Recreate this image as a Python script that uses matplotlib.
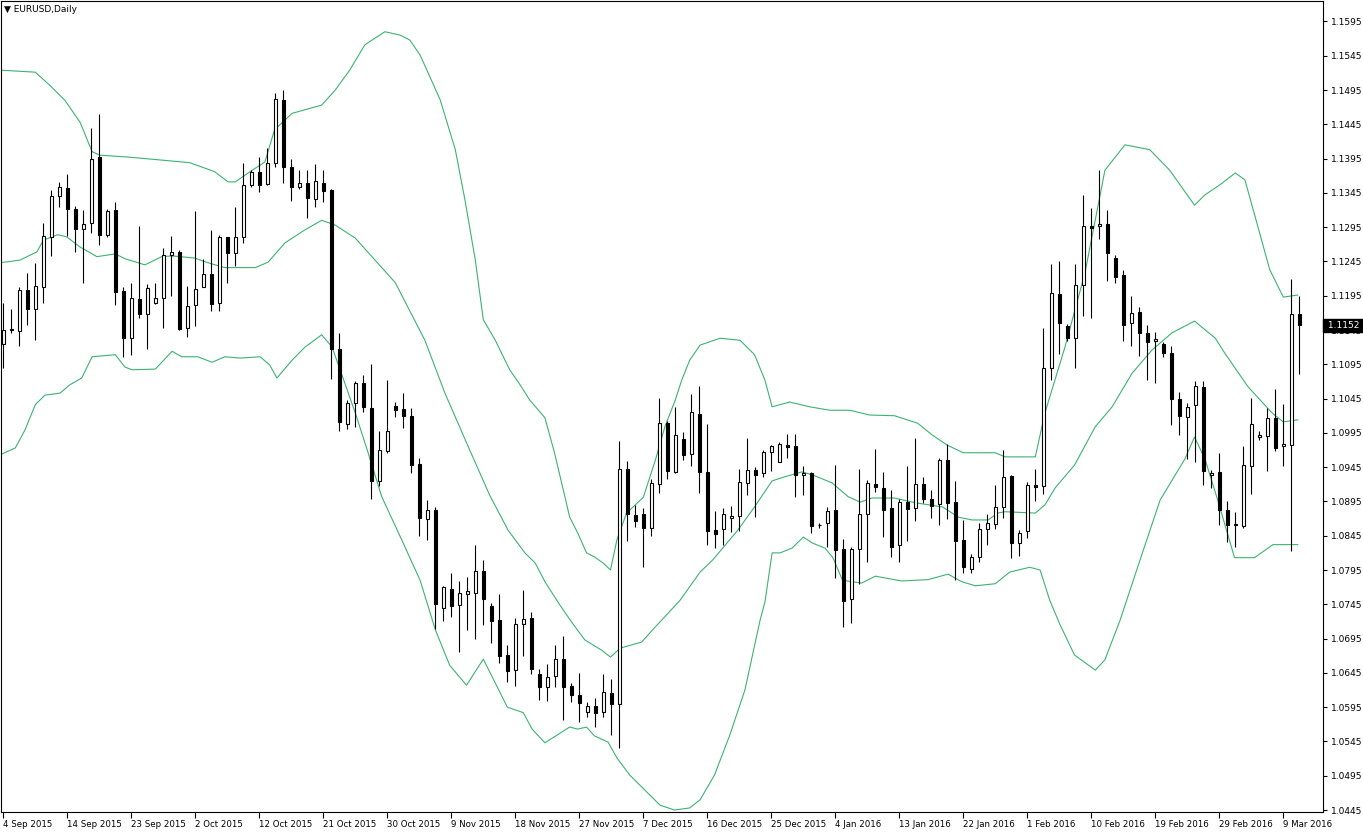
import matplotlib
matplotlib.use("Agg")
import matplotlib.pyplot as plt
import matplotlib.transforms as mtransforms

# ---------------- data ----------------
opens = [1.1124,1.1145,1.1144,1.1204,1.1175,1.1207,1.1281,1.1340,1.1352,1.1321,
         1.1292,1.1301,1.1397,1.1283,1.1320,1.1202,1.1134,1.1190,1.1169,1.1185,
         1.1191,1.1254,1.1259,1.1148,1.1181,1.1208,1.1226,1.1184,1.1280,1.1257,
         1.1280,1.1357,1.1375,1.1358,1.1388,1.1481,1.1382,1.1354,1.1360,1.1336,
         1.1360,1.1349,1.1118,1.1008,1.1038,1.1068,1.1031,1.0925,1.0968,1.1034,
         1.1030,1.1020,1.0949,1.0870,1.0883,1.0739,1.0768,1.0744,1.0760,1.0761,
         1.0794,1.0742,1.0722,1.0671,1.0649,1.0716,1.0725,1.0644,1.0624,1.0640,
         1.0665,1.0626,1.0613,1.0588,1.0596,1.0588,1.0616,1.0600,1.0943,1.0875,
         1.0876,1.0856,1.0921,1.1009,1.0938,1.0986,1.0964,1.1023,1.0938,1.0853,
         1.0855,1.0871,1.0874,1.0922,1.0941,1.0936,1.0967,1.0953,1.0977,1.0976,
         1.0933,1.0936,1.0860,1.0863,1.0882,1.0826,1.0752,1.0825,1.0876,1.0920,
         1.0915,1.0885,1.0831,1.0894,1.0885,1.0921,1.0898,1.0891,1.0956,1.0894,
         1.0839,1.0796,1.0814,1.0855,1.0862,1.0887,1.0932,1.0834,1.0852,1.0919,
         1.0918,1.1089,1.1198,1.1151,1.1134,1.1210,1.1296,1.1296,1.1300,1.1250,
         1.1225,1.1155,1.1171,1.1140,1.1129,1.1124,1.1111,1.1045,1.1018,1.1035,
         1.1062,1.0934,1.0938,1.0883,1.0862,1.0859,1.0947,1.0989,1.0990,1.1016,
         1.0976,1.0977,1.1169]
highs = [1.1184,1.1176,1.1208,1.1228,1.1242,1.1301,1.1349,1.1361,1.1373,1.1326,
         1.1320,1.1440,1.1460,1.1322,1.1331,1.1208,1.1214,1.1297,1.1212,1.1213,
         1.1264,1.1282,1.1262,1.1209,1.1319,1.1248,1.1291,1.1284,1.1281,1.1325,
         1.1388,1.1378,1.1398,1.1411,1.1490,1.1495,1.1395,1.1379,1.1379,1.1387,
         1.1378,1.1351,1.1140,1.1043,1.1071,1.1079,1.1095,1.0998,1.1072,1.1040,
         1.1053,1.1031,1.0959,1.0897,1.0887,1.0772,1.0791,1.0779,1.0785,1.0831,
         1.0810,1.0747,1.0760,1.0686,1.0725,1.0766,1.0734,1.0650,1.0658,1.0686,
         1.0699,1.0630,1.0645,1.0602,1.0608,1.0643,1.0636,1.0983,1.0954,1.0890,
         1.0885,1.0927,1.1046,1.1012,1.1032,1.0996,1.1052,1.1064,1.1008,1.0881,
         1.0885,1.0889,1.0942,1.0987,1.0945,1.0970,1.0977,1.0982,1.0994,1.0994,
         1.0947,1.0938,1.0864,1.0887,1.0948,1.0840,1.0829,1.0943,1.0926,1.0972,
         1.0938,1.0912,1.0899,1.0947,1.0987,1.0930,1.0912,1.0958,1.0979,1.0925,
         1.0868,1.0819,1.0863,1.0877,1.0919,1.0970,1.0933,1.0854,1.0923,1.0942,
         1.1148,1.1241,1.1246,1.1154,1.1241,1.1342,1.1323,1.1378,1.1320,1.1254,
         1.1232,1.1195,1.1179,1.1153,1.1142,1.1128,1.1122,1.1054,1.1039,1.1071,
         1.1071,1.0941,1.0966,1.0896,1.0879,1.0976,1.1046,1.0998,1.1031,1.1059,
         1.1037,1.1219,1.1195]
lows = [1.1089,1.1141,1.1122,1.1153,1.1131,1.1185,1.1253,1.1325,1.1282,1.1259,
        1.1214,1.1286,1.1269,1.1281,1.1182,1.1105,1.1108,1.1162,1.1118,1.1183,
        1.1148,1.1194,1.1145,1.1135,1.1151,1.1207,1.1172,1.1172,1.1214,1.1239,
        1.1272,1.1354,1.1346,1.1357,1.1383,1.1359,1.1333,1.1351,1.1308,1.1325,
        1.1331,1.1073,1.0997,1.1000,1.1004,1.1025,1.0898,1.0918,1.0965,1.1018,
        1.1002,1.0937,1.0844,1.0839,1.0709,1.0720,1.0727,1.0676,1.0707,1.0695,
        1.0715,1.0689,1.0659,1.0632,1.0626,1.0670,1.0643,1.0605,1.0604,1.0624,
        1.0576,1.0603,1.0574,1.0580,1.0566,1.0580,1.0555,1.0536,1.0838,1.0858,
        1.0800,1.0844,1.0908,1.0928,1.0936,1.0955,1.0947,1.0907,1.0832,1.0827,
        1.0831,1.0850,1.0852,1.0905,1.0873,1.0931,1.0939,1.0952,1.0958,1.0902,
        1.0905,1.0849,1.0856,1.0829,1.0784,1.0712,1.0717,1.0775,1.0806,1.0909,
        1.0843,1.0814,1.0806,1.0837,1.0866,1.0892,1.0871,1.0861,1.0870,1.0781,
        1.0791,1.0790,1.0807,1.0831,1.0855,1.0871,1.0812,1.0816,1.0842,1.0895,
        1.0906,1.1072,1.1110,1.1129,1.1089,1.1165,1.1163,1.1277,1.1217,1.1214,
        1.1129,1.1121,1.1107,1.1072,1.1068,1.1106,1.1006,1.0992,1.0957,1.0953,
        1.0919,1.0914,1.0861,1.0836,1.0828,1.0856,1.0906,1.0984,1.0939,1.0968,
        1.0946,1.0823,1.1081]
closes = [1.1145,1.1146,1.1204,1.1175,1.1209,1.1282,1.1341,1.1353,1.1322,1.1293,
          1.1299,1.1395,1.1283,1.1319,1.1201,1.1134,1.1192,1.1169,1.1206,1.1192,
          1.1255,1.1259,1.1147,1.1180,1.1205,1.1226,1.1183,1.1281,1.1258,1.1280,
          1.1357,1.1375,1.1357,1.1388,1.1482,1.1382,1.1354,1.1360,1.1337,1.1362,
          1.1348,1.1117,1.1011,1.1039,1.1067,1.1032,1.0925,1.0970,1.0998,1.1029,
          1.1019,1.0948,1.0871,1.0883,1.0746,1.0770,1.0743,1.0761,1.0764,1.0793,
          1.0752,1.0720,1.0670,1.0648,1.0716,1.0723,1.0650,1.0625,1.0639,1.0665,
          1.0625,1.0612,1.0601,1.0596,1.0586,1.0617,1.0600,1.0942,1.0876,1.0867,
          1.0856,1.0922,1.1009,1.0939,1.0992,1.0962,1.1025,1.0938,1.0852,1.0848,
          1.0877,1.0874,1.0923,1.0941,1.0934,1.0967,1.0976,1.0979,1.0975,1.0934,
          1.0937,1.0859,1.0860,1.0881,1.0824,1.0750,1.0826,1.0876,1.0922,1.0916,
          1.0883,1.0829,1.0894,1.0884,1.0920,1.0899,1.0888,1.0956,1.0893,1.0838,
          1.0799,1.0814,1.0855,1.0863,1.0887,1.0930,1.0835,1.0849,1.0919,1.0916,
          1.1089,1.1199,1.1155,1.1134,1.1211,1.1297,1.1294,1.1299,1.1258,1.1223,
          1.1153,1.1170,1.1140,1.1128,1.1132,1.1112,1.1045,1.1019,1.1033,1.1064,
          1.0939,1.0937,1.0883,1.0860,1.0860,1.0948,1.1008,1.0992,1.1016,1.0973,
          1.0979,1.1169,1.1152]

# Bollinger bands (bar position, price)
upper_pos = [-0.4,4.0,5.8,7.7,9.6,11.1,12.1,15.8,19.6,23.3,26.4,28.1,29.0,30.6,32.7,33.9,36.1,39.8,
             41.5,43.3,45.2,47.7,49.6,50.8,52.1,54.6,56.5,57.7,59.0,60.0,61.5,63.3,64.6,65.8,67.7,
             68.9,70.8,71.8,72.9,73.9,75.0,75.9,76.7,77.9,80.0,81.5,82.7,84.0,84.8,85.8,87.1,89.6,
             92.1,93.9,95.2,96.1,98.3,100.8,103.3,105.8,108.3,111.4,114.3,116.1,118.0,120.0,124.0,
             125.2,129.0,130.2,132.7,135.2,137.7,140.2,143.3,145.8,148.9,150.2,152.1,154.0,155.2,
             157.1,158.3,160.0,161.8]
upper_val = [1.1524,1.1521,1.1502,1.1480,1.1448,1.1405,1.1400,1.1397,1.1393,1.1389,1.1376,1.1361,1.1361,
             1.1374,1.1390,1.1437,1.1461,1.1473,1.1495,1.1524,1.1561,1.1580,1.1575,1.1568,1.1546,1.1481,
             1.1408,1.1335,1.1247,1.1160,1.1130,1.1087,1.1065,1.1043,1.1017,1.0966,1.0872,1.0849,1.0820,
             1.0814,1.0805,1.0795,1.0839,1.0878,1.0901,1.0955,1.1004,1.1043,1.1072,1.1101,1.1123,1.1133,
             1.1130,1.1109,1.1072,1.1033,1.1040,1.1033,1.1028,1.1028,1.1021,1.1020,1.1009,1.0992,1.0977,
             1.0966,1.0966,1.0960,1.0960,1.1024,1.1120,1.1228,1.1378,1.1415,1.1408,1.1378,1.1327,1.1342,
             1.1357,1.1374,1.1364,1.1284,1.1233,1.1193,1.1196]

middle_pos = [-0.4,2.1,4.2,5.0,6.8,7.9,9.6,11.7,14.0,15.2,17.7,19.8,21.1,23.9,25.6,27.7,31.5,33.1,35.2,
              37.7,39.8,41.5,44.0,49.0,52.7,55.2,58.3,60.8,63.1,65.2,66.5,67.7,69.4,71.1,72.7,74.8,
              75.9,77.1,79.8,81.5,82.7,84.6,87.1,88.7,91.8,93.9,96.1,97.7,99.8,101.1,103.6,105.6,
              107.1,108.6,111.4,114.0,117.4,119.4,121.1,123.1,124.3,125.2,129.0,130.2,131.5,133.9,
              136.5,138.6,141.1,143.6,146.1,148.9,151.5,152.7,155.6,158.6,160.0,161.8]
middle_val = [1.1243,1.1247,1.1259,1.1276,1.1284,1.1281,1.1266,1.1252,1.1256,1.1249,1.1240,1.1252,1.1253,
              1.1250,1.1243,1.1236,1.1236,1.1244,1.1272,1.1291,1.1305,1.1298,1.1279,1.1214,1.1130,1.1053,
              1.0970,1.0904,1.0853,1.0820,1.0805,1.0778,1.0747,1.0718,1.0693,1.0678,1.0668,1.0681,1.0690,
              1.0712,1.0727,1.0751,1.0792,1.0810,1.0853,1.0887,1.0925,1.0931,1.0938,1.0934,1.0922,1.0902,
              1.0894,1.0900,1.0900,1.0893,1.0887,1.0872,1.0868,1.0868,1.0878,1.0880,1.0878,1.0890,1.0915,
              1.0948,1.1004,1.1033,1.1082,1.1116,1.1141,1.1158,1.1133,1.1111,1.1062,1.1024,1.1011,1.1014]

lower_pos = [-0.4,1.5,2.7,4.0,5.2,7.1,8.3,9.8,11.1,14.0,15.2,16.1,19.0,21.1,22.3,24.3,26.1,27.7,29.6,
             32.1,33.3,34.2,36.1,37.7,39.8,41.1,42.1,44.0,45.6,47.3,49.8,52.1,54.0,55.8,57.9,60.0,63.0,
             65.0,66.1,67.7,70.8,71.8,72.9,73.9,75.6,76.7,78.3,80.2,82.1,83.9,85.8,87.1,88.9,90.8,92.7,
             94.6,95.2,96.1,97.1,98.6,100.0,101.2,102.7,103.7,104.9,107.3,109.0,112.3,115.6,118.1,
             119.8,121.5,124.0,125.8,128.3,129.6,130.8,132.1,133.9,136.5,137.7,139.6,142.1,144.6,
             147.7,148.9,150.2,151.8,153.9,156.4,158.7,161.8]
lower_val = [1.0963,1.0973,1.0999,1.1036,1.1050,1.1053,1.1065,1.1075,1.1106,1.1109,1.1091,1.1087,1.1088,
             1.1114,1.1106,1.1106,1.1098,1.1106,1.1104,1.1106,1.1094,1.1075,1.1101,1.1120,1.1138,1.1120,
             1.1087,1.1024,1.0966,1.0902,1.0839,1.0780,1.0708,1.0656,1.0627,1.0665,1.0595,1.0587,1.0563,
             1.0543,1.0566,1.0563,1.0566,1.0553,1.0544,1.0521,1.0496,1.0474,1.0452,1.0445,1.0448,1.0460,
             1.0496,1.0554,1.0620,1.0722,1.0748,1.0820,1.0820,1.0827,1.0843,1.0834,1.0827,1.0813,1.0780,
             1.0776,1.0786,1.0779,1.0781,1.0789,1.0778,1.0772,1.0775,1.0792,1.0799,1.0795,1.0751,1.0715,
             1.0671,1.0649,1.0664,1.0722,1.0810,1.0897,1.0957,1.0989,1.0957,1.0897,1.0813,1.0813,1.0832,
             1.0832]

date_labels = ['4 Sep 2015','14 Sep 2015','23 Sep 2015','2 Oct 2015','12 Oct 2015','21 Oct 2015',
               '30 Oct 2015','9 Nov 2015','18 Nov 2015','27 Nov 2015','7 Dec 2015','16 Dec 2015',
               '25 Dec 2015','4 Jan 2016','13 Jan 2016','22 Jan 2016','1 Feb 2016','10 Feb 2016',
               '19 Feb 2016','29 Feb 2016','9 Mar 2016']
date_label_bars = [0,8,16,24,32,40,48,56,64,72,80,88,96,104,112,120,128,136,144,152,160]
price_ticks = [1.0445 + 0.005 * k for k in range(24)]
symbol_title = '\u25BC EURUSD,Daily'
last_price = closes[-1]

# ---------------- figure ----------------
W, H = 1363, 834
fig = plt.figure(figsize=(W / 100, H / 100), dpi=100)
fig.patch.set_facecolor('white')
ax = fig.add_axes([1 / W, 22 / H, 1322 / W, 811 / H])
ax.set_facecolor('white')

n = len(closes)
xs = list(range(n))
band_color = '#3cb371'
ax.plot(upper_pos, upper_val, color=band_color, lw=0.8, zorder=1)
ax.plot(middle_pos, middle_val, color=band_color, lw=0.8, zorder=1)
ax.plot(lower_pos, lower_val, color=band_color, lw=0.8, zorder=1)

ax.vlines(xs, lows, highs, color='black', lw=0.8, zorder=2)
body_w = 0.45
for i in range(n):
    o, c = opens[i], closes[i]
    fill = 'white' if c >= o else 'black'
    ax.bar(i, c - o, bottom=o, width=body_w, color=fill, edgecolor='black',
           linewidth=0.8, zorder=3)

ax.set_xlim(-0.2875, 164.96)
ax.set_ylim(1.04421, 1.16248)

for s in ax.spines.values():
    s.set_color('black')
    s.set_linewidth(0.8)

ax.yaxis.tick_right()
ax.set_yticks(price_ticks)
ax.set_yticklabels(['%.4f' % v for v in price_ticks])
ax.tick_params(axis='y', length=3, width=0.8, pad=3, labelsize=6.5, colors='black')

ax.set_xticks(date_label_bars)
ax.set_xticklabels(date_labels, ha='left')
ax.tick_params(axis='x', length=4, width=0.8, pad=2, labelsize=6.2, colors='black')
for lbl in ax.get_xticklabels():
    lbl.set_horizontalalignment('left')

# current price label (drawn over the axis, as in the terminal)
trans = mtransforms.blended_transform_factory(ax.transAxes, ax.transData)
ax.text(1.0012, last_price, ' %.4f ' % last_price, transform=trans, color='white',
        fontsize=6.5, va='center', ha='left', zorder=10, clip_on=False,
        bbox=dict(boxstyle='square,pad=0.2', facecolor='black', edgecolor='black'))

fig.text(4 / W, 1 - 10 / H, symbol_title, fontsize=6.5, va='center', ha='left', color='black')

fig.savefig('out.png', dpi=100, facecolor='white')
